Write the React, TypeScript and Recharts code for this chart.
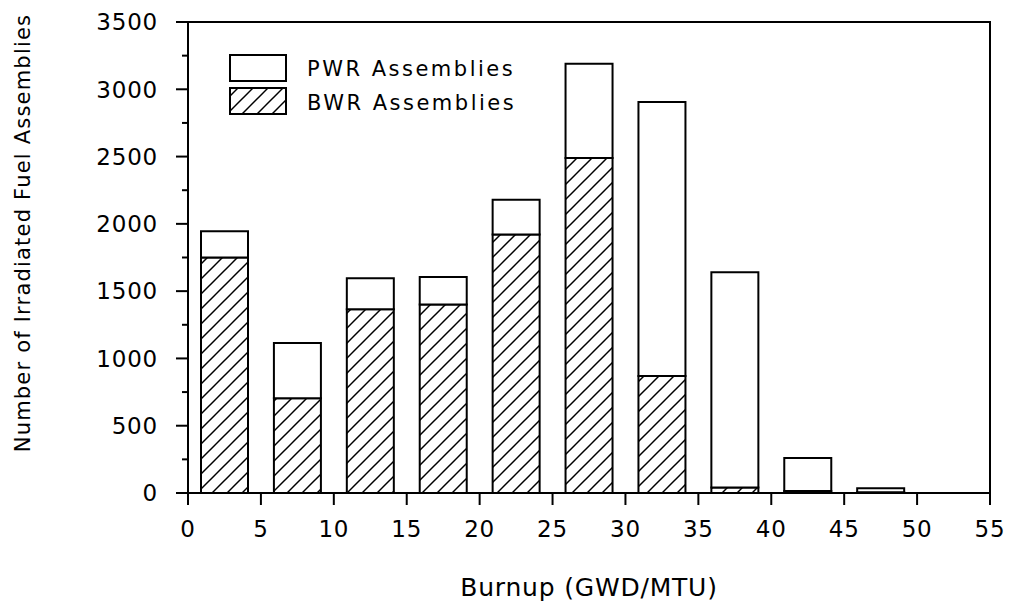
import React from 'react';
import { BarChart, Bar, XAxis, YAxis, ReferenceArea } from 'recharts';

const burnup = [2.5, 7.5, 12.5, 17.5, 22.5, 27.5, 32.5, 37.5, 42.5, 47.5];
const bwrAssemblies = [1750, 705, 1365, 1400, 1920, 2490, 870, 40, 15, 5];
const pwrAssemblies = [195, 410, 230, 205, 260, 700, 2035, 1600, 245, 30];
const xTicks = [0, 5, 10, 15, 20, 25, 30, 35, 40, 45, 50, 55];
const yTicks = [0, 250, 500, 750, 1000, 1250, 1500, 1750, 2000, 2250, 2500, 2750, 3000, 3250, 3500];
const seriesNames = ['PWR Assemblies', 'BWR Assemblies'];

const data = burnup.map((b, i) => ({ burnup: b, bwr: bwrAssemblies[i], pwr: pwrAssemblies[i] }));

const FONT = '"DejaVu Sans", Verdana, sans-serif';

const YTick = (props: any) => {
  const { x, y, payload } = props;
  const major = payload.value % 500 === 0;
  return (
    <g>
      <line x1={x - (major ? 12 : 6)} x2={x} y1={y} y2={y} stroke="#000" strokeWidth={2} />
      {major && (
        <text x={x - 30} y={y} dy="0.36em" textAnchor="end" fontFamily={FONT} fontSize={23} letterSpacing={0.8} fill="#000">
          {payload.value}
        </text>
      )}
    </g>
  );
};

const XTick = (props: any) => {
  const { x, payload } = props;
  return (
    <text x={x} y={521} dy="0.71em" textAnchor="middle" fontFamily={FONT} fontSize={23} letterSpacing={0.8} fill="#000">
      {payload.value}
    </text>
  );
};

const XLabel = () => (
  <text x={589} y={596} textAnchor="middle" fontFamily={FONT} fontSize={25} letterSpacing={0.8} fill="#000">
    Burnup (GWD/MTU)
  </text>
);

const YLabel = () => (
  <text
    x={0}
    y={0}
    transform="translate(30,233) rotate(-90)"
    textAnchor="middle"
    fontFamily={FONT}
    fontSize={21}
    letterSpacing={1.2}
    fill="#000"
  >
    Number of Irradiated Fuel Assemblies
  </text>
);

export default function App() {
  return (
    <div style={{ position: 'absolute', left: 0, top: 0, width: 1014, height: 607, background: '#fff' }}>
      <BarChart width={1014} height={607} data={data} margin={{ top: 22, right: 24, bottom: 0, left: 0 }}>
        <defs>
          <pattern id="hatch" patternUnits="userSpaceOnUse" width={15} height={15}>
            <line x1={0} y1={15} x2={15} y2={0} stroke="#000" strokeWidth={1.5} />
            <line x1={-2} y1={2} x2={2} y2={-2} stroke="#000" strokeWidth={1.5} />
            <line x1={13} y1={17} x2={17} y2={13} stroke="#000" strokeWidth={1.5} />
          </pattern>
        </defs>
        <XAxis
          dataKey="burnup"
          type="number"
          domain={[0, 55]}
          ticks={xTicks}
          interval={0}
          allowDataOverflow
          height={114}
          tickSize={12}
          tickMargin={14}
          tick={<XTick />}
          axisLine={false}
          tickLine={{ stroke: '#000', strokeWidth: 2 }}
          label={<XLabel />}
        />
        <YAxis
          type="number"
          domain={[0, 3500]}
          ticks={yTicks}
          interval={0}
          width={188}
          tickSize={0}
          tickMargin={0}
          tickLine={false}
          axisLine={false}
          tick={<YTick />}
          label={<YLabel />}
        />
        <ReferenceArea x1={0} x2={55} y1={0} y2={3500} fill="none" stroke="#000" strokeWidth={2} ifOverflow="visible" />
        <Bar dataKey="bwr" name={seriesNames[1]} stackId="a" fill="url(#hatch)" stroke="#000" strokeWidth={2} barSize={47} isAnimationActive={false} />
        <Bar dataKey="pwr" name={seriesNames[0]} stackId="a" fill="#fff" stroke="#000" strokeWidth={2} barSize={47} isAnimationActive={false} />
      </BarChart>
      <svg width={320} height={70} style={{ position: 'absolute', left: 228, top: 53 }}>
        <rect x={2} y={2} width={56} height={26} fill="#fff" stroke="#000" strokeWidth={2} />
        <rect x={2} y={35} width={56} height={26} fill="url(#hatch)" stroke="#000" strokeWidth={2} />
        <text x={79} y={23} fontFamily={FONT} fontSize={21} letterSpacing={2.5} fill="#000">{seriesNames[0]}</text>
        <text x={79} y={57} fontFamily={FONT} fontSize={21} letterSpacing={2.5} fill="#000">{seriesNames[1]}</text>
      </svg>
    </div>
  );
}
